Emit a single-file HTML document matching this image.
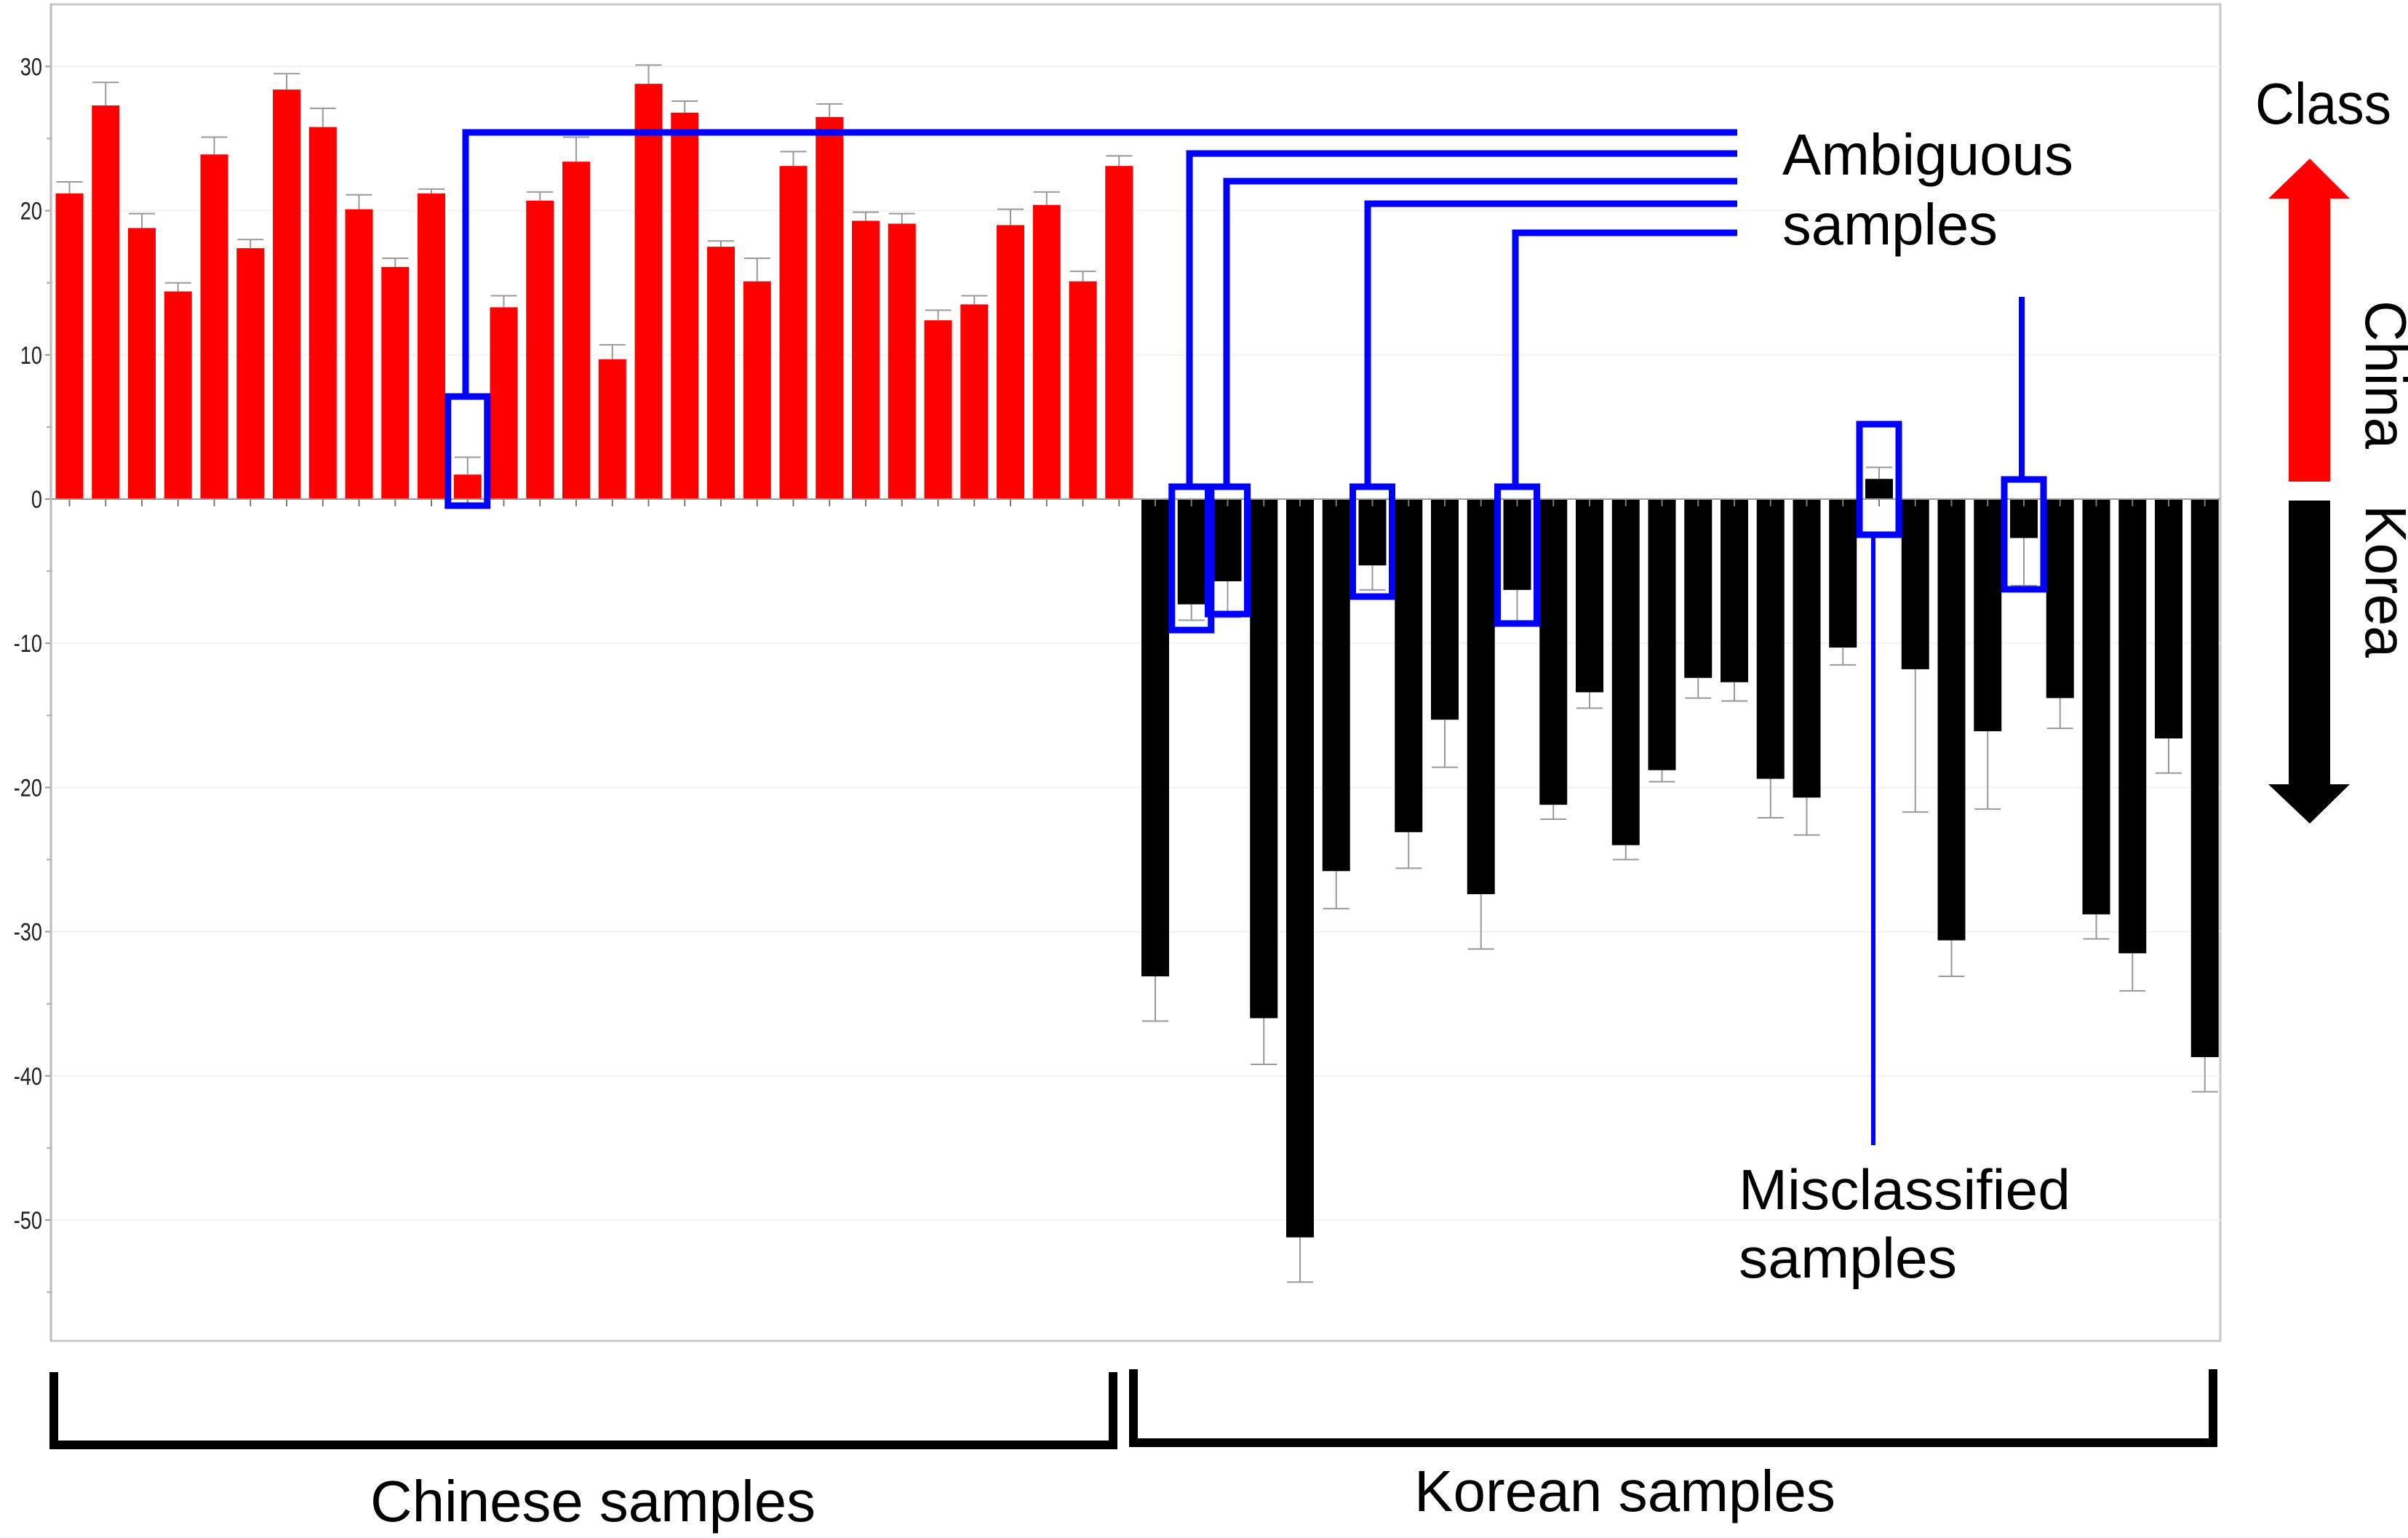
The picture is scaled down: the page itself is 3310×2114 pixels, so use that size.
<!DOCTYPE html>
<html><head><meta charset="utf-8"><style>
html,body{margin:0;padding:0;background:#fff;}
svg{display:block;}
text{font-family:"Liberation Sans",sans-serif;}
</style></head><body>
<svg id="chart" xmlns="http://www.w3.org/2000/svg" width="3310" height="2114" viewBox="0 0 3310 2114">
<rect x="0" y="0" width="3310" height="2114" fill="#fff"/>
<rect x="70" y="6" width="2982" height="1837" fill="none" stroke="#c8c8c8" stroke-width="3"/>
<g id="grid"></g><g id="bars"></g><g id="axis"></g><g id="annot"></g>
</svg>
<script>
const chineseValues=[21.2,27.3,18.8,14.4,23.9,17.4,28.4,25.8,20.1,16.1,21.2,1.7,13.3,20.7,23.4,9.7,28.8,26.8,17.5,15.1,23.1,26.5,19.3,19.1,12.4,13.5,19.0,20.4,15.1,23.1];
const chineseErrors=[0.8,1.6,1.0,0.6,1.2,0.6,1.1,1.3,1.0,0.6,0.3,1.2,0.8,0.6,1.7,1.0,1.3,0.8,0.4,1.6,1.0,0.9,0.6,0.7,0.7,0.6,1.1,0.9,0.7,0.7];
const koreanValues=[-33.1,-7.3,-5.7,-36.0,-51.2,-25.8,-4.6,-23.1,-15.3,-27.4,-6.3,-21.2,-13.4,-24.0,-18.8,-12.4,-12.7,-19.4,-20.7,-10.3,1.4,-11.8,-30.6,-16.1,-2.7,-13.8,-28.8,-31.5,-16.6,-38.7];
const koreanErrors=[3.1,1.1,2.5,3.2,3.1,2.6,1.7,2.5,3.3,3.8,2.3,1.0,1.1,1.0,0.8,1.4,1.3,2.7,2.6,1.2,0.8,9.9,2.5,5.4,3.3,2.1,1.7,2.6,2.4,2.4];
const yTicks=[30,20,10,0,-10,-20,-30,-40,-50];

const NS="http://www.w3.org/2000/svg";
function el(tag,attrs,parent){const e=document.createElementNS(NS,tag);for(const k in attrs)e.setAttribute(k,attrs[k]);parent.appendChild(e);return e;}
const y0=686, pxPerUnit=19.82;
function yScale(v){return y0-v*pxPerUnit;}
const x0=76.5, pitch=49.75, bw=38;
function xScale(i){return x0+i*pitch;}

const grid=document.getElementById('grid'),bars=document.getElementById('bars'),axis=document.getElementById('axis'),annot=document.getElementById('annot');
yTicks.forEach(t=>{
  const y=yScale(t);
  const g=el('line',{x1:70,x2:3052,y1:y,y2:y,stroke:'#f2f2f2','stroke-width':2},grid);
  
  
  el('line',{x1:62,x2:70,y1:y,y2:y,stroke:'#999','stroke-width':2},axis);
  const tx=el('text',{x:58,y:y+12,'text-anchor':'end','font-size':34,fill:'#222',transform:`translate(58 ${y}) scale(0.8 1) translate(-58 ${-y})`},axis);
  tx.textContent=t;
  
  
});
for(let t=25;t>-60;t-=10){const y=yScale(t);el('line',{x1:64,x2:72,y1:y,y2:y,stroke:'#aaa','stroke-width':2},axis);}
const ax=el('line',{x1:70,x2:70,y1:6,y2:1843,stroke:'#bbb','stroke-width':3},axis);



const allValues=chineseValues.concat(koreanValues);
const allErrors=chineseErrors.concat(koreanErrors);
allValues.forEach((v,i)=>{
  const x=xScale(i), isC=i<chineseValues.length;
  const top=Math.min(yScale(v),y0), h=Math.abs(yScale(v)-y0);
  const r=el('rect',{x:x,y:top,width:bw,height:h,fill:isC?'#ff0000':'#000'},bars);
  
  
  const e=allErrors[i]*(v>=0?1:-1);
  const ye=yScale(v+e), cx=x+bw/2;
  el('line',{x1:cx,x2:cx,y1:yScale(v),y2:ye,stroke:'#999','stroke-width':2},bars);
  el('line',{x1:cx-18,x2:cx+18,y1:ye,y2:ye,stroke:'#999','stroke-width':2},bars);
  el('line',{x1:cx,x2:cx,y1:y0,y2:y0+10,stroke:'#777','stroke-width':2},bars);
});
el('line',{x1:70,x2:3052,y1:y0,y2:y0,stroke:'#999','stroke-width':2},bars);

const B='#0000ff';
function box(i,top,bot){
  const r=el('rect',{x:xScale(i)-8,y:top,width:bw+16,height:bot-top,fill:'none',stroke:B,'stroke-width':9},annot);
  
  
}
box(11,545,695);box(31,669,866);box(32,669,844);box(36,669,820);box(40,669,857);box(54,659,810);box(50,583,735);
const leaders=[[640,182,545],[1635,211,669],[1686,249,669],[1880,280,669],[2083,320,669]];
leaders.forEach(l=>{
  const p=el('polyline',{points:`2388,${l[1]} ${l[0]},${l[1]} ${l[0]},${l[2]}`,fill:'none',stroke:B,'stroke-width':9},annot);
  
  
});
el('line',{x1:2779,x2:2779,y1:408,y2:659,stroke:B,'stroke-width':8},annot);
el('line',{x1:2575,x2:2575,y1:735,y2:1574,stroke:B,'stroke-width':6},annot);
</script>
<svg style="position:absolute;left:0;top:0" width="3310" height="2114" viewBox="0 0 3310 2114">
<text x="2450" y="240" font-size="80" textLength="400" lengthAdjust="spacingAndGlyphs" fill="#000">Ambiguous</text>
<text x="2450" y="336" font-size="80" textLength="296" lengthAdjust="spacingAndGlyphs" fill="#000">samples</text>
<text x="2390" y="1662" font-size="78" textLength="456" lengthAdjust="spacingAndGlyphs" fill="#000">Misclassified</text>
<text x="2390" y="1756" font-size="78" textLength="300" lengthAdjust="spacingAndGlyphs" fill="#000">samples</text>
<text x="3100" y="170" font-size="80" textLength="187" lengthAdjust="spacingAndGlyphs" fill="#000">Class</text>
<polygon points="3175,218 3230,273 3203,273 3203,662 3146,662 3146,273 3118,273" fill="#ff0000"/>
<polygon points="3146,688 3203,688 3203,1078 3230,1078 3175,1132 3118,1078 3146,1078" fill="#000"/>
<text transform="translate(3252 413) rotate(90)" font-size="80" textLength="204" lengthAdjust="spacingAndGlyphs" fill="#000">China</text>
<text transform="translate(3252 694) rotate(90)" font-size="80" textLength="210" lengthAdjust="spacingAndGlyphs" fill="#000">Korea</text>
<polyline points="74,1886 74,1986 1530,1986 1530,1886" fill="none" stroke="#000" stroke-width="12"/>
<polyline points="1558,1882 1558,1983 3042,1983 3042,1882" fill="none" stroke="#000" stroke-width="12"/>
<text x="509" y="2091" font-size="80" textLength="612" lengthAdjust="spacingAndGlyphs" fill="#000">Chinese samples</text>
<text x="1944" y="2077" font-size="80" textLength="579" lengthAdjust="spacingAndGlyphs" fill="#000">Korean samples</text>
</svg>
</body></html>
